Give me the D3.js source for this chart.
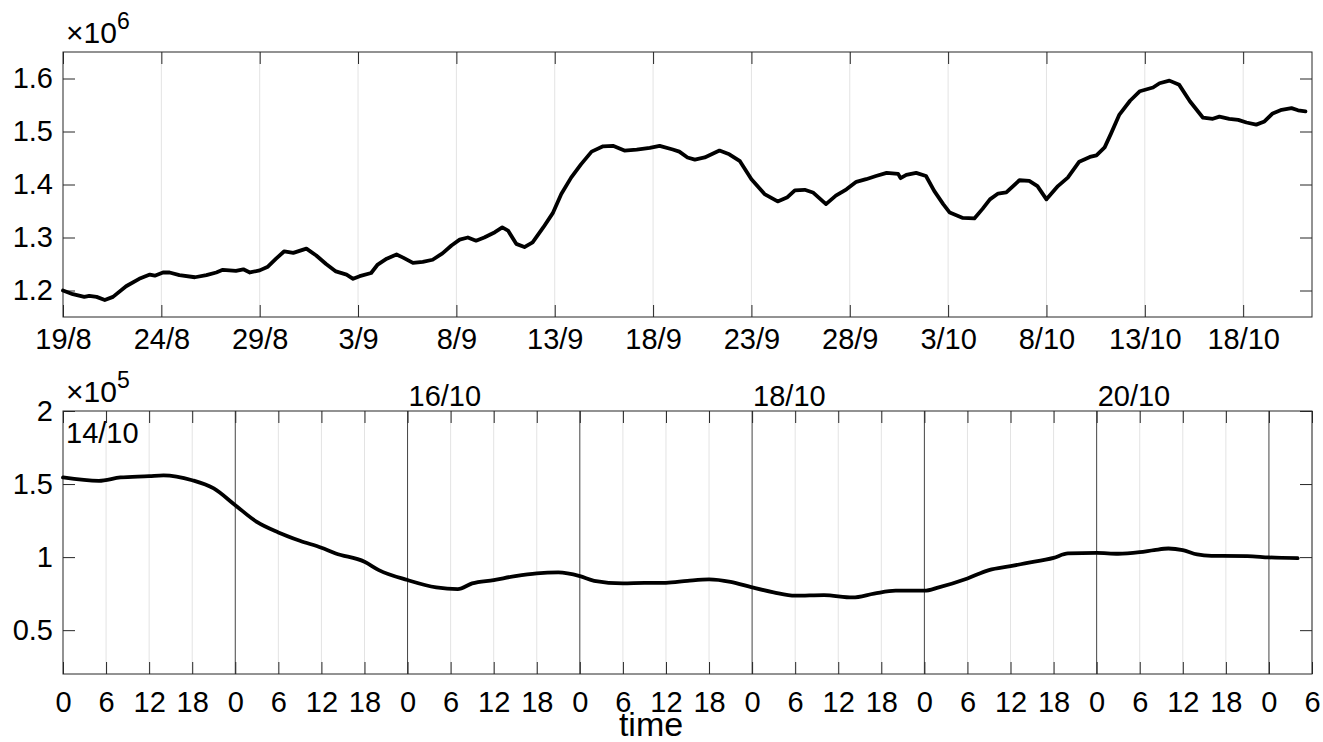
<!DOCTYPE html>
<html>
<head>
<meta charset="utf-8">
<script src="https://cdn.jsdelivr.net/npm/d3@7"></script>
<style>
  body { margin: 0; background: #fff; }
  text { font-family: "Liberation Sans", Arial, Helvetica, sans-serif; fill: #000; }
</style>
</head>
<body>
<div id="chart"></div>
<script>
// top panel: days since 19/8, values in units of 1e6
const topDays = [0, 0.52, 1.12, 1.37, 1.71, 2.14, 2.56, 3.24, 3.91, 4.42, 4.68, 5.10, 5.44, 5.95, 6.71, 7.30, 7.81, 8.15, 8.83, 9.17,
  9.51, 10.0, 10.44, 10.86, 11.29, 11.71, 12.39, 12.90, 13.41, 13.91, 14.42, 14.76, 15.10, 15.69, 16.03, 16.46, 16.97, 17.30, 17.81, 18.32,
  18.83, 19.33, 19.76, 20.18, 20.60, 21.03, 21.45, 21.96, 22.35, 22.64, 23.07, 23.49, 23.91, 24.42, 24.93, 25.35, 25.86, 26.37, 26.88, 27.47,
  27.98, 28.57, 29.17, 29.84, 30.35, 31.03, 31.37, 31.79, 32.13, 32.64, 33.40, 33.91, 34.42, 35.01, 35.69, 36.37, 36.87, 37.21, 37.72, 38.14,
  38.82, 39.33, 39.84, 40.35, 40.86, 41.37, 41.88, 42.47, 42.59, 42.90, 43.40, 43.91, 44.33, 44.75, 45.09, 45.77, 46.36, 46.79, 47.13, 47.55,
  47.98, 48.65, 49.16, 49.58, 50.04, 50.60, 51.11, 51.70, 52.21, 52.55, 52.98, 53.31, 53.74, 54.25, 54.76, 55.43, 55.77, 56.28, 56.79, 57.30,
  57.97, 58.48, 58.82, 59.33, 59.75, 60.18, 60.69, 61.11, 61.53, 61.96, 62.47, 62.80, 63.19];
const topValues = [1.200, 1.193, 1.188, 1.190, 1.188, 1.182, 1.188, 1.208, 1.222, 1.230, 1.228, 1.234, 1.234, 1.229, 1.225, 1.229, 1.234, 1.239, 1.237, 1.240,
  1.234, 1.238, 1.245, 1.260, 1.274, 1.271, 1.279, 1.266, 1.250, 1.236, 1.230, 1.222, 1.227, 1.233, 1.249, 1.260, 1.268, 1.262, 1.252, 1.254,
  1.258, 1.270, 1.285, 1.296, 1.300, 1.294, 1.300, 1.310, 1.319, 1.313, 1.288, 1.282, 1.291, 1.319, 1.347, 1.382, 1.413, 1.438, 1.462, 1.472,
  1.473, 1.464, 1.466, 1.469, 1.473, 1.466, 1.462, 1.451, 1.447, 1.451, 1.464, 1.457, 1.444, 1.410, 1.382, 1.368, 1.376, 1.389, 1.390, 1.385,
  1.363, 1.379, 1.391, 1.405, 1.410, 1.416, 1.422, 1.420, 1.412, 1.418, 1.422, 1.416, 1.388, 1.363, 1.347, 1.337, 1.336, 1.354, 1.372, 1.383,
  1.385, 1.408, 1.407, 1.397, 1.372, 1.397, 1.413, 1.443, 1.452, 1.455, 1.470, 1.497, 1.532, 1.558, 1.576, 1.583, 1.591, 1.596, 1.588, 1.557,
  1.526, 1.524, 1.528, 1.524, 1.522, 1.517, 1.513, 1.519, 1.534, 1.541, 1.544, 1.540, 1.538];
const topYTicks = [1.2, 1.3, 1.4, 1.5, 1.6];

// bottom panel: hours since 14/10 00:00, values in units of 1e5
const bottomHours = [0, 5.2, 8.4, 12, 14.5, 18, 21, 24, 27, 30, 33, 36, 38.6, 42, 44.6, 48, 52.5, 55, 57.2, 60,
  63.2, 66, 69.3, 72, 74.8, 78, 81.3, 84, 87, 90, 93, 96, 99, 102, 106, 110, 113.9, 116.7, 120, 122.7,
  126, 129.2, 132, 134.8, 138, 140.8, 144, 147.3, 150, 152.4, 154.5, 156.1, 158.5, 160.3, 165, 168, 172.2];
const bottomValues = [1.545, 1.522, 1.545, 1.554, 1.560, 1.526, 1.470, 1.355, 1.241, 1.169, 1.112, 1.064, 1.025, 0.968, 0.911, 0.843, 0.793, 0.781, 0.820, 0.843,
  0.870, 0.889, 0.895, 0.870, 0.838, 0.820, 0.824, 0.824, 0.838, 0.848, 0.831, 0.793, 0.759, 0.736, 0.740, 0.724, 0.750, 0.770, 0.770, 0.793,
  0.854, 0.911, 0.938, 0.957, 0.995, 1.025, 1.029, 1.023, 1.034, 1.048, 1.059, 1.048, 1.018, 1.009, 1.007, 0.998, 0.993];
const bottomYTicks = [0.5, 1, 1.5, 2];
const bottomDayLabels = [2, 4, 6]; // days after 14/10 labelled above the axes

const W = 1323, H = 742;
const axisColor = "#262626";
const fontSize = 29;
const tickLen = 12;
const fmtDay = d3.utcFormat("%-d/%-m");

const svg = d3.select("#chart").append("svg")
  .attr("width", W).attr("height", H);

// ---------- top panel ----------
const topStart = Date.UTC(2020, 7, 19);
const tA = { left: 63, right: 1312, top: 52, bottom: 317 };
const xTop = d3.scaleUtc()
  .domain([new Date(topStart), d3.utcHour.offset(new Date(topStart), 63.5 * 24)])
  .range([tA.left, tA.right]);
const yTop = d3.scaleLinear().domain([1.15, 1.65]).range([tA.bottom, tA.top]);
const topXTicks = d3.range(0, 63, 5).map(d => d3.utcDay.offset(new Date(topStart), d));

const gTop = svg.append("g");
// grid
gTop.selectAll(".grid").data(topXTicks.slice(1)).enter().append("line")
  .attr("x1", d => xTop(d)).attr("x2", d => xTop(d))
  .attr("y1", tA.top).attr("y2", tA.bottom)
  .attr("stroke", "#e3e3e3").attr("stroke-width", 1);

// axes
gTop.append("g").attr("transform", `translate(0,${tA.bottom})`)
  .call(d3.axisBottom(xTop).tickValues(topXTicks).tickFormat(fmtDay).tickSizeInner(-tickLen).tickSizeOuter(0).tickPadding(11))
  .call(styleAxis);
gTop.append("g").attr("transform", `translate(0,${tA.top})`)
  .call(d3.axisTop(xTop).tickValues(topXTicks).tickFormat("").tickSizeInner(-tickLen).tickSizeOuter(0))
  .call(styleAxis);
gTop.append("g").attr("transform", `translate(${tA.left},0)`)
  .call(d3.axisLeft(yTop).tickValues(topYTicks).tickFormat(d3.format(".1f")).tickSizeInner(-tickLen).tickSizeOuter(0).tickPadding(10))
  .call(styleAxis);
gTop.append("g").attr("transform", `translate(${tA.right},0)`)
  .call(d3.axisRight(yTop).tickValues(topYTicks).tickFormat("").tickSizeInner(-tickLen).tickSizeOuter(0))
  .call(styleAxis);
frame(gTop, tA);

const topData = topDays.map((d, i) => ({ t: d3.utcHour.offset(new Date(topStart), d * 24), v: topValues[i] }));
gTop.append("path").datum(topData)
  .attr("fill", "none").attr("stroke", "#000").attr("stroke-width", 3.8)
  .attr("stroke-linejoin", "round").attr("stroke-linecap", "round")
  .attr("d", d3.line().x(d => xTop(d.t)).y(d => yTop(d.v)));

exponent(gTop, 66, 43, "6");

// ---------- bottom panel ----------
const botStart = Date.UTC(2020, 9, 14);
const bA = { left: 63, right: 1312, top: 411, bottom: 674 };
const xBot = d3.scaleUtc()
  .domain([new Date(botStart), d3.utcHour.offset(new Date(botStart), 174)])
  .range([bA.left, bA.right]);
const yBot = d3.scaleLinear().domain([0.2, 2]).range([bA.bottom, bA.top]);
const botXTicks = d3.range(0, 175, 6).map(h => d3.utcHour.offset(new Date(botStart), h));
const dayTicks = botXTicks.filter(d => d.getUTCHours() === 0);

const gBot = svg.append("g");
gBot.selectAll(".grid").data(botXTicks.filter(d => d.getUTCHours() !== 0)).enter().append("line")
  .attr("x1", d => xBot(d)).attr("x2", d => xBot(d))
  .attr("y1", bA.top).attr("y2", bA.bottom)
  .attr("stroke", "#e3e3e3").attr("stroke-width", 1);
gBot.selectAll(".dayline").data(dayTicks.slice(1)).enter().append("line")
  .attr("x1", d => xBot(d)).attr("x2", d => xBot(d))
  .attr("y1", bA.top).attr("y2", bA.bottom)
  .attr("stroke", "#444").attr("stroke-width", 1);

gBot.append("g").attr("transform", `translate(0,${bA.bottom})`)
  .call(d3.axisBottom(xBot).tickValues(botXTicks).tickFormat(d => d.getUTCHours()).tickSizeInner(-tickLen).tickSizeOuter(0).tickPadding(17))
  .call(styleAxis);
gBot.append("g").attr("transform", `translate(0,${bA.top})`)
  .call(d3.axisTop(xBot).tickValues(botXTicks).tickFormat("").tickSizeInner(-tickLen).tickSizeOuter(0))
  .call(styleAxis);
gBot.append("g").attr("transform", `translate(${bA.left},0)`)
  .call(d3.axisLeft(yBot).tickValues(bottomYTicks).tickFormat(d3.format("~g")).tickSizeInner(-tickLen).tickSizeOuter(0).tickPadding(10))
  .call(styleAxis);
gBot.append("g").attr("transform", `translate(${bA.right},0)`)
  .call(d3.axisRight(yBot).tickValues(bottomYTicks).tickFormat("").tickSizeInner(-tickLen).tickSizeOuter(0))
  .call(styleAxis);
frame(gBot, bA);

const botData = bottomHours.map((h, i) => ({ t: d3.utcHour.offset(new Date(botStart), h), v: bottomValues[i] }));
gBot.append("path").datum(botData)
  .attr("fill", "none").attr("stroke", "#000").attr("stroke-width", 3.8)
  .attr("stroke-linejoin", "round").attr("stroke-linecap", "round")
  .attr("d", d3.line().curve(d3.curveMonotoneX).x(d => xBot(d.t)).y(d => yBot(d.v)));

// date labels
gBot.append("text").attr("x", bA.left + 3).attr("y", 443)
  .attr("font-size", fontSize).text(fmtDay(new Date(botStart)));
gBot.selectAll(".daylab").data(bottomDayLabels).enter().append("text")
  .attr("x", d => xBot(d3.utcDay.offset(new Date(botStart), d)) + 1).attr("y", 406)
  .attr("font-size", fontSize).text(d => fmtDay(d3.utcDay.offset(new Date(botStart), d)));

exponent(gBot, 66, 402, "5");

svg.append("text").attr("x", 651).attr("y", 736).attr("text-anchor", "middle")
  .attr("font-size", 34).text("time");

function styleAxis(g) {
  g.select(".domain").remove();
  g.selectAll(".tick line").attr("stroke", axisColor).attr("stroke-width", 1);
  g.selectAll(".tick text").attr("font-size", fontSize).attr("fill", "#000")
    .attr("font-family", '"Liberation Sans", Arial, sans-serif');
}

function frame(g, a) {
  g.append("rect").attr("x", a.left).attr("y", a.top)
    .attr("width", a.right - a.left).attr("height", a.bottom - a.top)
    .attr("fill", "none").attr("stroke", axisColor).attr("stroke-width", 1);
}

function exponent(g, x, y, p) {
  const t = g.append("text").attr("x", x).attr("y", y).attr("font-size", 30);
  t.append("tspan").text("\u00d710");
  t.append("tspan").attr("font-size", 23).attr("dy", -14).text(p);
}
</script>
</body>
</html>
